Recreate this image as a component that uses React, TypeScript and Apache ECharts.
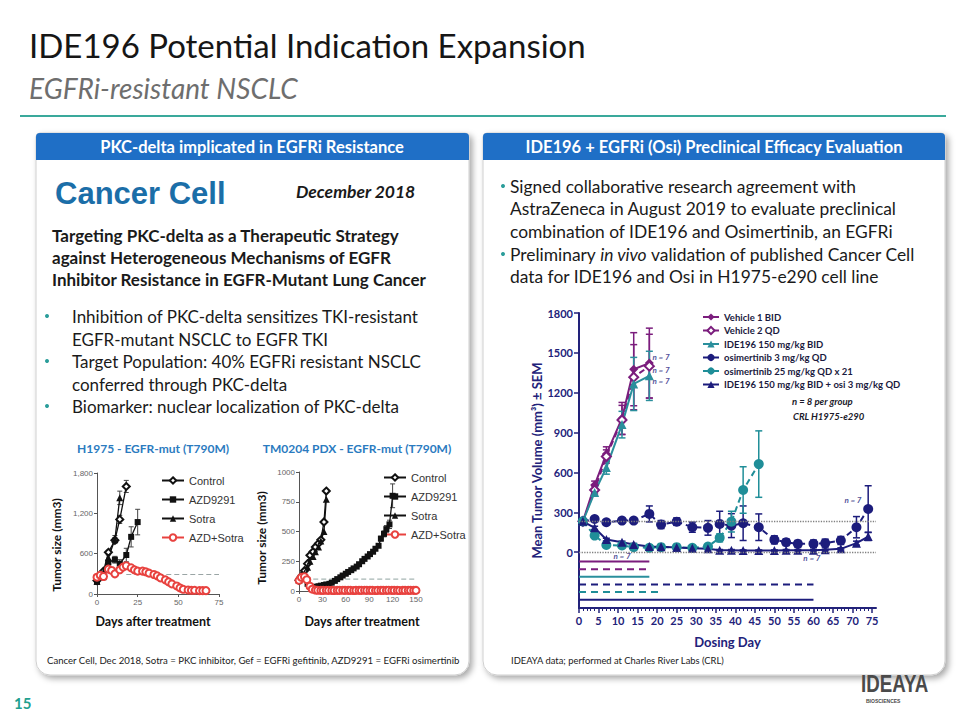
import React, { useEffect, useRef } from "react";
import * as echarts from "echarts";

// ---------------- Main chart (IDE196 + osimertinib, H1975-e290) ----------------
const MAIN_NAMES = [
  "Vehicle 1 BID",
  "Vehicle 2 QD",
  "IDE196 150 mg/kg BID",
  "osimertinib 3 mg/kg QD",
  "osimertinib 25 mg/kg QD x 21",
  "IDE196 150 mg/kg BID + osi 3 mg/kg QD",
];
const VEH_DAYS = [1, 4, 7, 11, 14, 18];
const ALL_DAYS = [1, 4, 7, 11, 14, 18, 21, 25, 29, 33, 36, 39, 42, 46, 50, 53, 56, 60, 63, 67, 71, 74];
const OSI25_DAYS = [1, 4, 7, 11, 14, 18, 21, 25, 29, 33, 36, 39, 42, 46];

const VEH1 = [232, 505, 738, 1007, 1377, 1423];
const VEH1_ERR = [0, 30, 55, 120, 275, 263];
const VEH2 = [232, 468, 720, 995, 1317, 1400];
const VEH2_ERR = [0, 30, 50, 110, 245, 240];
const IDE = [232, 450, 637, 960, 1266, 1327];
const IDE_ERR = [0, 25, 50, 100, 200, 185];
const OSI3 = [232, 250, 225, 238, 238, 288, 208, 230, 188, 183, 213, 200, 218, 188, 93, 75, 63, 63, 68, 88, 188, 325];
const OSI3_ERR = [0, 15, 15, 15, 15, 60, 30, 28, 38, 55, 95, 90, 130, 100, 30, 25, 25, 28, 30, 30, 80, 175];
const OSI25 = [232, 125, 55, 50, 38, 33, 38, 38, 33, 43, 108, 230, 468, 663];
const OSI25_ERR = [0, 15, 15, 12, 10, 8, 8, 8, 8, 15, 30, 78, 175, 250];
const COMBO = [232, 183, 95, 75, 58, 43, 40, 35, 30, 25, 15, 15, 12, 12, 12, 15, 15, 15, 18, 25, 68, 118];
const COMBO_ERR = [0, 12, 10, 8, 8, 8, 6, 6, 6, 6, 5, 5, 5, 5, 5, 5, 5, 5, 5, 8, 15, 30];

const MAIN_DAYS = [VEH_DAYS, VEH_DAYS, VEH_DAYS, ALL_DAYS, OSI25_DAYS, ALL_DAYS];
const MAIN_VALS = [VEH1, VEH2, IDE, OSI3, OSI25, COMBO];
const MAIN_ERRS = [VEH1_ERR, VEH2_ERR, IDE_ERR, OSI3_ERR, OSI25_ERR, COMBO_ERR];
// dosing period (days) per group
const TREAT_END = [18, 18, 18, 60, 21, 60];
const BASELINE_REFS = [232, 0];
const X_TICKS = [0, 5, 10, 15, 20, 25, 30, 35, 40, 45, 50, 55, 60, 65, 70, 75];
const X_MINOR_TICKS = [1, 2, 3, 4, 6, 7, 8, 9, 11, 12, 13, 14, 16, 17, 18, 19, 21, 22, 23, 24, 26, 27, 28, 29, 31, 32, 33, 34, 36, 37, 38, 39, 41, 42, 43, 44, 46, 47, 48, 49, 51, 52, 53, 54, 56, 57, 58, 59, 61, 62, 63, 64, 66, 67, 68, 69, 71, 72, 73, 74];
const Y_TICKS = [0, 300, 600, 900, 1200, 1500, 1800];
const N_LABEL = "n = 7";
const N_ANCHORS = [[21, 1466], [21, 1369], [21, 1286], [11, -32], [59.6, -45], [70.1, 389]];

// ---------------- Left chart 1 (H1975) ----------------
const LEFT_NAMES = ["Control", "AZD9291", "Sotra", "AZD+Sotra"];
const H_CTRL_DAYS = [0, 4, 7, 11, 14, 18];
const H_CTRL = [200, 340, 620, 800, 1110, 1600];
const H_CTRL_ERR = [0, 0, 30, 40, 60, 90];
const H_AZD_DAYS = [0, 4, 7, 11, 14, 18, 21, 25];
const H_AZD = [180, 250, 470, 510, 450, 580, 850, 1070];
const H_AZD_ERR = [0, 20, 40, 50, 60, 100, 150, 190];
const H_SOTRA_DAYS = [0, 4, 7, 11, 14];
const H_SOTRA = [190, 330, 540, 810, 1430];
const H_SOTRA_ERR = [0, 20, 40, 60, 100];
const H_COMBO_DAYS = [0, 2, 4, 7, 9, 11, 14, 16, 18, 21, 23, 25, 28, 30, 32, 35, 37, 39, 42, 44, 46, 49, 51, 53, 56, 58, 60, 63, 65, 67];
const H_COMBO = [250, 280, 260, 370, 350, 300, 360, 400, 420, 390, 360, 340, 340, 330, 310, 290, 270, 240, 210, 180, 150, 120, 90, 70, 60, 55, 55, 50, 50, 50];
const H_THRESH = [[18, 290], [75, 290]];

// ---------------- Left chart 2 (TM0204 PDX) ----------------
const T_CTRL_DAYS = [0, 4, 7, 11, 14, 18, 21, 25, 28, 32, 35];
const T_CTRL = [90, 130, 170, 230, 300, 330, 370, 400, 430, 580, 840];
const T_SOTRA = [90, 120, 150, 200, 250, 290, 330, 370, 420, 500, 770];
const T_AZD_DAYS = [0, 4, 7, 11, 14, 18, 21, 25, 28, 32, 35, 39, 42, 46, 49, 53, 56, 60, 63, 67, 70, 74, 77, 81, 84, 88, 91, 95, 98, 102, 105, 109, 112, 116, 120];
const T_AZD = [95, 120, 110, 60, 40, 35, 35, 40, 45, 50, 55, 60, 70, 85, 100, 115, 130, 145, 160, 175, 190, 205, 225, 250, 270, 290, 310, 330, 355, 380, 440, 480, 520, 560, 800];
const T_AZD_ERR = [0, 0, 0, 0, 0, 0, 0, 0, 0, 0, 0, 0, 0, 0, 0, 0, 0, 0, 0, 0, 0, 0, 0, 0, 0, 0, 0, 0, 0, 0, 20, 25, 30, 35, 100];
const T_COMBO_DAYS = [0, 3, 7, 10, 14, 17, 21, 24, 28, 31, 35, 38, 42, 45, 49, 52, 56, 59, 63, 66, 70, 73, 77, 80, 84, 87, 91, 94, 98, 101, 105, 108, 112, 115, 119, 122, 126, 129, 133, 136, 140, 143, 147, 150];
const T_COMBO = [90, 115, 120, 95, 40, 15, 8, 6, 5, 5, 6, 5, 5, 4, 5, 5, 6, 5, 5, 5, 4, 5, 5, 5, 6, 5, 5, 5, 4, 5, 5, 5, 5, 6, 5, 5, 5, 4, 5, 5, 5, 5, 5, 5];
const T_THRESH = [[8, 100], [150, 100]];

// ---------------- styles ----------------
const PURPLE = "#7b1d7d";
const TEAL = "#2a8f9c";
const TEAL2 = "#1f8e98";
const NAVY = "#1c1c7c";
const AXIS_NAVY = "#22227a";
const MAIN_STYLE = [
  { color: PURPLE, symbol: "diamond", size: 9, dashed: false },
  { color: PURPLE, symbol: "emptyDiamond", size: 9, dashed: true },
  { color: TEAL, symbol: "triangle", size: 9, dashed: false },
  { color: NAVY, symbol: "circle", size: 10, dashed: true },
  { color: TEAL2, symbol: "circle", size: 10, dashed: true },
  { color: NAVY, symbol: "triangle", size: 9, dashed: false },
];
const BODY = "Lato";

function errorBars(days: number[], vals: number[], errs: number[], color: string, xi: number, yi: number, lw: number, cap: number) {
  return {
    type: "custom",
    xAxisIndex: xi,
    yAxisIndex: yi,
    silent: true,
    z: 3,
    data: days.map((d, k) => [d, vals[k], errs[k]]),
    renderItem: (_p: any, api: any) => {
      const x = api.value(0), y = api.value(1), e = api.value(2);
      if (!e) return null;
      const t = api.coord([x, y + e]);
      const b = api.coord([x, y - e]);
      const s = { stroke: color, lineWidth: lw };
      return {
        type: "group",
        children: [
          { type: "line", shape: { x1: t[0], y1: t[1], x2: b[0], y2: b[1] }, style: s },
          { type: "line", shape: { x1: t[0] - cap, y1: t[1], x2: t[0] + cap, y2: t[1] }, style: s },
          { type: "line", shape: { x1: b[0] - cap, y1: b[1], x2: b[0] + cap, y2: b[1] }, style: s },
        ],
      };
    },
  };
}

function txt(text: string, x: number, y: number, font: string, fill: string, extra: any = {}) {
  const align = extra.align || "left";
  return {
    type: "text",
    x,
    y,
    silent: true,
    z: 10,
    rotation: extra.rotation || 0,
    scaleX: extra.scaleX || 1,
    style: {
      text,
      font,
      fill,
      textAlign: align,
      align,
      textVerticalAlign: "middle",
      verticalAlign: "middle",
      rich: extra.rich,
    },
  };
}

function buildOption() {
  const series: any[] = [];

  // Main chart
  MAIN_NAMES.forEach((name, i) => {
    const st = MAIN_STYLE[i];
    const days = MAIN_DAYS[i];
    const vals = MAIN_VALS[i];
    series.push(errorBars(days, vals, MAIN_ERRS[i], st.color, 0, 0, 1.5, 3.5));
    series.push({
      type: "line",
      name,
      xAxisIndex: 0,
      yAxisIndex: 0,
      z: 4,
      data: days.map((d, k) => [d, vals[k]]),
      symbol: st.symbol,
      symbolSize: st.size,
      lineStyle: { color: st.color, width: 2, type: st.dashed ? [6, 4] : "solid" },
      itemStyle: { color: st.color, borderWidth: st.symbol.indexOf("empty") === 0 ? 1.6 : 0 },
      markLine:
        i === 0
          ? {
              silent: true,
              symbol: "none",
              label: { show: false },
              lineStyle: { type: "dotted", color: "#808080", width: 1.3 },
              data: BASELINE_REFS.map((v) => ({ yAxis: v })),
            }
          : undefined,
    });
    const level = -70 - i * 57.5;
    series.push({
      type: "line",
      name: "dosing " + name,
      xAxisIndex: 0,
      yAxisIndex: 0,
      silent: true,
      z: 3,
      symbol: "none",
      data: [[0, level], [TREAT_END[i], level]],
      lineStyle: { color: st.color, width: 2, type: st.dashed ? [7, 5] : "solid" },
    });
  });
  series.push({
    type: "scatter",
    xAxisIndex: 0,
    yAxisIndex: 0,
    symbolSize: 0,
    silent: true,
    z: 5,
    data: N_ANCHORS.map((p) => ({ value: p })),
    label: {
      show: true,
      position: "inside",
      formatter: () => N_LABEL,
      fontFamily: BODY,
      fontStyle: "italic",
      fontWeight: "bold",
      fontSize: 8,
      color: NAVY,
    },
  });

  // Left charts
  const leftDefs = [
    { xi: 2, yi: 1, name: "Control", days: H_CTRL_DAYS, vals: H_CTRL, errs: H_CTRL_ERR, sym: "emptyDiamond", color: "#111" },
    { xi: 2, yi: 1, name: "AZD9291", days: H_AZD_DAYS, vals: H_AZD, errs: H_AZD_ERR, sym: "rect", color: "#111" },
    { xi: 2, yi: 1, name: "Sotra", days: H_SOTRA_DAYS, vals: H_SOTRA, errs: H_SOTRA_ERR, sym: "triangle", color: "#111" },
    { xi: 2, yi: 1, name: "AZD+Sotra", days: H_COMBO_DAYS, vals: H_COMBO, errs: null, sym: "emptyCircle", color: "#e8423f" },
    { xi: 3, yi: 2, name: "Control", days: T_CTRL_DAYS, vals: T_CTRL, errs: null, sym: "emptyDiamond", color: "#111" },
    { xi: 3, yi: 2, name: "AZD9291", days: T_AZD_DAYS, vals: T_AZD, errs: T_AZD_ERR, sym: "rect", color: "#111" },
    { xi: 3, yi: 2, name: "Sotra", days: T_CTRL_DAYS, vals: T_SOTRA, errs: null, sym: "triangle", color: "#111" },
    { xi: 3, yi: 2, name: "AZD+Sotra", days: T_COMBO_DAYS, vals: T_COMBO, errs: null, sym: "emptyCircle", color: "#e8423f" },
  ];
  series.push({
    type: "line", xAxisIndex: 2, yAxisIndex: 1, silent: true, symbol: "none", z: 1,
    data: H_THRESH, lineStyle: { color: "#9aa5a5", width: 1, type: [5, 3] },
  });
  series.push({
    type: "line", xAxisIndex: 3, yAxisIndex: 2, silent: true, symbol: "none", z: 1,
    data: T_THRESH, lineStyle: { color: "#8fa3a0", width: 1, type: [5, 3] },
  });
  leftDefs.forEach((d) => {
    if (d.errs) series.push(errorBars(d.days, d.vals, d.errs, "#444", d.xi, d.yi, 1, 2.5));
    series.push({
      type: "line",
      name: d.name,
      xAxisIndex: d.xi,
      yAxisIndex: d.yi,
      z: 4,
      data: d.days.map((x, k) => [x, d.vals[k]]),
      symbol: d.sym,
      symbolSize: d.sym === "rect" ? 6 : 7,
      lineStyle: { color: d.color, width: 1.3 },
      itemStyle: { color: d.color, borderWidth: d.sym.indexOf("empty") === 0 ? 1.2 : 0 },
    });
  });

  const leftAxisLabel = { fontFamily: "Liberation Sans", fontSize: 8, color: "#666", margin: 4 };
  const leftAxisLine = { onZero: false, lineStyle: { color: "#555", width: 1 } };
  const plain = (v: number) => String(v);

  const graphic: any[] = [
    // title
    txt("IDE196 Potential Indication Expansion", 29, 45, `normal 33px ${BODY}`, "#161616"),
    txt("EGFRi-resistant NSCLC", 29, 88, `italic 28px ${BODY}`, "#6e6e6e"),
    { type: "line", silent: true, shape: { x1: 20, y1: 116, x2: 946, y2: 116 }, style: { stroke: "#3aa99b", lineWidth: 2 } },
    // panels
    {
      type: "rect", silent: true, z: 0,
      shape: { x: 36, y: 133, width: 433, height: 542, r: [4, 4, 14, 14] },
      style: { fill: "#fff", stroke: "#cfcfcf", lineWidth: 1, shadowBlur: 6, shadowOffsetX: 3, shadowOffsetY: 3, shadowColor: "rgba(0,0,0,0.35)" },
    },
    {
      type: "rect", silent: true, z: 0,
      shape: { x: 483, y: 133, width: 462, height: 542, r: [4, 4, 14, 14] },
      style: { fill: "#fff", stroke: "#cfcfcf", lineWidth: 1, shadowBlur: 6, shadowOffsetX: 3, shadowOffsetY: 3, shadowColor: "rgba(0,0,0,0.35)" },
    },
    { type: "rect", silent: true, z: 1, shape: { x: 36, y: 133, width: 433, height: 27, r: [4, 4, 0, 0] }, style: { fill: "#1f6fc6" } },
    { type: "rect", silent: true, z: 1, shape: { x: 483, y: 133, width: 462, height: 27, r: [4, 4, 0, 0] }, style: { fill: "#1f6fc6" } },
    txt("PKC-delta implicated in EGFRi Resistance", 252, 147, `bold 16.5px ${BODY}`, "#ffffff", { align: "center" }),
    txt("IDE196 + EGFRi (Osi) Preclinical Efficacy Evaluation", 714, 147, `bold 16.5px ${BODY}`, "#ffffff", { align: "center" }),
    // left panel text
    txt("Cancer Cell", 55, 193, `bold 31px "Liberation Sans"`, "#1b6ea8"),
    txt("December 2018", 296, 191, `italic bold 17.5px ${BODY}`, "#1a1a1a"),
    txt("Targeting PKC-delta as a Therapeutic Strategy", 52, 235, `bold 17px ${BODY}`, "#1a1a1a"),
    txt("against Heterogeneous Mechanisms of EGFR", 52, 257, `bold 17px ${BODY}`, "#1a1a1a"),
    txt("Inhibitor Resistance in EGFR-Mutant Lung Cancer", 52, 279, `bold 17px ${BODY}`, "#1a1a1a"),
    txt("Inhibition of PKC-delta sensitizes TKI-resistant", 72, 316, `17px ${BODY}`, "#1a1a1a"),
    txt("EGFR-mutant NSCLC to EGFR TKI", 72, 339, `17px ${BODY}`, "#1a1a1a"),
    txt("Target Population: 40% EGFRi resistant NSCLC", 72, 361, `17px ${BODY}`, "#1a1a1a"),
    txt("conferred through PKC-delta", 72, 384, `17px ${BODY}`, "#1a1a1a"),
    txt("Biomarker: nuclear localization of PKC-delta", 72, 406, `17px ${BODY}`, "#1a1a1a"),
    { type: "circle", silent: true, shape: { cx: 47, cy: 316, r: 2 }, style: { fill: "#2a9d9a" } },
    { type: "circle", silent: true, shape: { cx: 47, cy: 361, r: 2 }, style: { fill: "#2a9d9a" } },
    { type: "circle", silent: true, shape: { cx: 47, cy: 406, r: 2 }, style: { fill: "#2a9d9a" } },
    txt("H1975 - EGFR-mut (T790M)", 153, 448, `bold 12px ${BODY}`, "#2b7bbf", { align: "center" }),
    txt("TM0204 PDX - EGFR-mut (T790M)", 357, 448, `bold 12px ${BODY}`, "#2b7bbf", { align: "center" }),
    txt("Tumor size (mm3)", 56, 545, `bold 12px ${BODY}`, "#111", { align: "center", rotation: Math.PI / 2 }),
    txt("Tumor size (mm3)", 261, 538, `bold 12px ${BODY}`, "#111", { align: "center", rotation: Math.PI / 2 }),
    txt("Days after treatment", 153, 621, `bold 12.5px ${BODY}`, "#111", { align: "center" }),
    txt("Days after treatment", 362, 621, `bold 12.5px ${BODY}`, "#111", { align: "center" }),
    txt("Cancer Cell, Dec 2018, Sotra = PKC inhibitor, Gef = EGFRi gefitinib, AZD9291 = EGFRi osimertinib", 47, 660, `9.6px ${BODY}`, "#1a1a1a"),
    // right panel text
    { type: "circle", silent: true, shape: { cx: 503, cy: 186, r: 2 }, style: { fill: "#2a9d9a" } },
    { type: "circle", silent: true, shape: { cx: 503, cy: 254, r: 2 }, style: { fill: "#2a9d9a" } },
    txt("Signed collaborative research agreement with", 510, 186, `17.4px ${BODY}`, "#1a1a1a"),
    txt("AstraZeneca in August 2019 to evaluate preclinical", 510, 208, `17.4px ${BODY}`, "#1a1a1a"),
    txt("combination of IDE196 and Osimertinib, an EGFRi", 510, 231, `17.4px ${BODY}`, "#1a1a1a"),
    txt("Preliminary {i|in vivo} validation of published Cancer Cell", 510, 254, `17.4px ${BODY}`, "#1a1a1a", {
      rich: { i: { fontFamily: BODY, fontSize: 17.4, fontStyle: "italic", fill: "#1a1a1a", color: "#1a1a1a" } },
    }),
    txt("data for IDE196 and Osi in H1975-e290 cell line", 510, 276, `17.4px ${BODY}`, "#1a1a1a"),
    txt("n = 8 per group", 792, 401, `italic bold 9.5px ${BODY}`, "#1a1a2a"),
    txt("CRL H1975-e290", 793, 416, `italic bold 9.5px ${BODY}`, "#1a1a2a"),
    txt("IDEAYA data; performed at Charles River Labs (CRL)", 511, 660, `9.4px ${BODY}`, "#1a1a1a"),
    // footer
    txt("15", 14, 703, `bold 15px ${BODY}`, "#1fa08f"),
    txt("IDEAYA", 861, 684, `bold 24px "Liberation Sans"`, "#4a4a4a", { scaleX: 0.78 }),
    txt("BIOSCIENCES", 866, 701, `bold 5px "Liberation Sans"`, "#4a4a4a"),
  ];

  return {
    animation: false,
    backgroundColor: "#ffffff",
    grid: [
      { left: 579, top: 313, width: 297, height: 295 },
      { left: 97, top: 473, width: 122, height: 121 },
      { left: 299, top: 472, width: 117, height: 119 },
    ],
    xAxis: [
      {
        type: "value", gridIndex: 0, min: 0, max: 76, position: "bottom",
        axisLine: { onZero: false, lineStyle: { color: AXIS_NAVY, width: 2 } },
        axisTick: { inside: false, customValues: X_TICKS, length: 5, lineStyle: { color: AXIS_NAVY, width: 1.5 } },
        axisLabel: { customValues: X_TICKS, formatter: plain, fontFamily: BODY, fontWeight: "bold", fontSize: 11, color: AXIS_NAVY, margin: 7 },
        splitLine: { show: false },
        name: "Dosing Day", nameLocation: "middle", nameGap: 27,
        nameTextStyle: { fontFamily: BODY, fontWeight: "bold", fontSize: 13, color: AXIS_NAVY },
      },
      {
        type: "value", gridIndex: 0, min: 0, max: 76, position: "bottom", offset: 0,
        axisLine: { show: false, onZero: false },
        axisTick: { show: true, inside: false, customValues: X_MINOR_TICKS, length: 3, lineStyle: { color: AXIS_NAVY, width: 1 } },
        axisLabel: { show: false },
        splitLine: { show: false },
      },
      {
        type: "value", gridIndex: 1, min: 0, max: 75, interval: 25,
        axisLine: leftAxisLine, axisTick: { length: 3, lineStyle: { color: "#555" } },
        axisLabel: { ...leftAxisLabel, formatter: plain }, splitLine: { show: false },
      },
      {
        type: "value", gridIndex: 2, min: 0, max: 150, interval: 30,
        axisLine: leftAxisLine, axisTick: { length: 3, lineStyle: { color: "#555" } },
        axisLabel: { ...leftAxisLabel, formatter: plain }, splitLine: { show: false },
      },
    ],
    yAxis: [
      {
        type: "value", gridIndex: 0, min: -420, max: 1800,
        axisLine: { show: true, onZero: false, lineStyle: { color: AXIS_NAVY, width: 2 } },
        axisTick: { show: true, customValues: Y_TICKS, length: 5, lineStyle: { color: AXIS_NAVY, width: 1.5 } },
        axisLabel: { customValues: Y_TICKS, formatter: plain, fontFamily: BODY, fontWeight: "bold", fontSize: 11, color: AXIS_NAVY, margin: 6 },
        splitLine: { show: false },
        name: "Mean Tumor Volume (mm³) ± SEM", nameLocation: "middle", nameGap: 31, nameRotate: 90,
        nameTextStyle: { fontFamily: BODY, fontWeight: "bold", fontSize: 13, color: AXIS_NAVY },
      },
      {
        type: "value", gridIndex: 1, min: 0, max: 1800, interval: 600,
        axisLine: { show: true, ...leftAxisLine }, axisTick: { show: true, length: 3, lineStyle: { color: "#555" } },
        axisLabel: { ...leftAxisLabel, formatter: (v: number) => v.toLocaleString("en-US") }, splitLine: { show: false },
      },
      {
        type: "value", gridIndex: 2, min: 0, max: 1000, interval: 250,
        axisLine: { show: true, ...leftAxisLine }, axisTick: { show: true, length: 3, lineStyle: { color: "#555" } },
        axisLabel: { ...leftAxisLabel, formatter: plain }, splitLine: { show: false },
      },
    ],
    legend: [
      {
        data: MAIN_NAMES, orient: "vertical", left: 697, top: 306, itemWidth: 16, itemHeight: 9, itemGap: 1.5,
        selectedMode: false,
        textStyle: { fontFamily: BODY, fontWeight: "bold", fontSize: 9.5, color: "#1a1a40", lineHeight: 12 },
      },
      {
        data: LEFT_NAMES, orient: "vertical", left: 156, top: 469, itemWidth: 22, itemHeight: 8, itemGap: 6,
        selectedMode: false,
        textStyle: { fontFamily: "Liberation Sans", fontSize: 11, color: "#333", lineHeight: 13 },
      },
      {
        data: LEFT_NAMES, orient: "vertical", left: 378, top: 466, itemWidth: 22, itemHeight: 8, itemGap: 6,
        selectedMode: false,
        textStyle: { fontFamily: "Liberation Sans", fontSize: 11, color: "#333", lineHeight: 13 },
      },
    ],
    graphic,
    series,
  };
}

export default function App() {
  const ref = useRef<HTMLDivElement>(null);
  useEffect(() => {
    if (!ref.current) return;
    const chart = echarts.init(ref.current, null, { renderer: "svg", width: 960, height: 720 });
    chart.setOption(buildOption() as any);
    return () => chart.dispose();
  }, []);
  return (
    <div
      ref={ref}
      style={{ position: "absolute", left: 0, top: 0, width: 960, height: 720, background: "#fff" }}
    />
  );
}
